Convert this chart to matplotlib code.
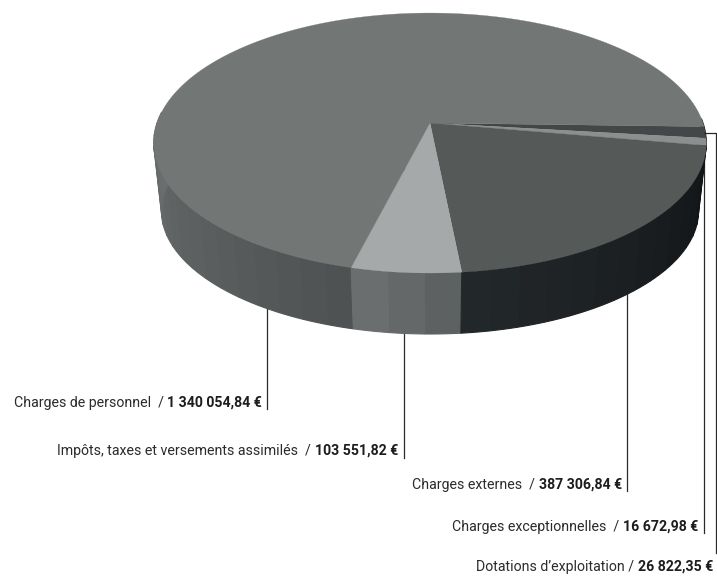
import matplotlib
matplotlib.use("Agg")
import matplotlib.pyplot as plt
import numpy as np
from matplotlib.patches import Polygon

plt.rcParams["font.family"] = ["Roboto", "Liberation Sans", "DejaVu Sans"]

# clockwise on screen starting from the right edge of the pie
categories = ["Dotations d’exploitation", "Charges exceptionnelles", "Charges externes",
              "Impôts, taxes et versements assimilés", "Charges de personnel"]
values = [26822.35, 16672.98, 387306.84, 103551.82, 1340054.84]
value_labels = ["26 822,35 €", "16 672,98 €", "387 306,84 €", "103 551,82 €", "1 340 054,84 €"]
top_colors = ["#434748", "#8b8f8e", "#555958", "#a6a9a9", "#727776"]
wall_left = ["#111416", "#111416", "#111416", "#5a5e5e", "#4d5151"]
wall_right = ["#111416", "#111416", "#23282a", "#6d7171", "#6c7070"]

# label separator, the reference keeps a wider gap on some rows
separators = [" / ", "  / ", "  / ", "  / ", "  / "]
label_right = [713, 698, 622, 398, 262]
label_y = [567, 527, 485, 451, 403]
leader_x = [716, 704, 627, 404, 267]
leader_bottom = [553, 533, 491, 458, 409]

cx, cy = 430, 123
a, b, k = 273, 126.9, 0.154
taper = 0.972
start_angle = 1.6


def project(theta):
    # circle seen in perspective, theta in degrees clockwise on screen
    t = np.radians(theta)
    X, Y = np.cos(t), np.sin(t)
    w = 1 - k * Y
    return cx + a * X / w, cy + b * Y / w


def lower_rim(theta):
    # underside of the disc is smaller and flatter than the top face
    x, y = project(theta)
    depth = 69 - 8 * np.sin(np.radians(theta))
    return cx + (x - cx) * taper, y + depth


fig = plt.figure(figsize=(7.17, 5.76), dpi=100)
ax = fig.add_axes([0, 0, 1, 1])
ax.set_xlim(0, 717)
ax.set_ylim(576, 0)
ax.axis("off")

angles = start_angle + np.concatenate([[0], np.cumsum(values)]) / sum(values) * 360

# leaders go under the pie
for i, lx in enumerate(leader_x):
    if i == 0:
        continue
    ax.plot([lx, lx], [140, leader_bottom[i]], color="#2a2a2a", lw=0.9, zorder=1)

# side wall, in narrow bands for the banded shading
for i in range(len(values)):
    lo, hi = max(angles[i], -2), min(angles[i + 1], 185)
    if i == 0:
        lo = -2
    if hi <= lo:
        continue
    n = max(int((hi - lo) / 5), 1)
    edges = np.linspace(lo, hi, n + 1)
    left = np.array(matplotlib.colors.to_rgb(wall_left[i]))
    right = np.array(matplotlib.colors.to_rgb(wall_right[i]))
    for j in range(n):
        th = np.linspace(edges[j], edges[j + 1], 8)
        x, y = project(th)
        xb, yb = lower_rim(th)
        pts = np.r_[np.c_[x, y], np.c_[xb, yb][::-1]]
        f = (j + 0.5) / n
        # angle grows towards the left of the screen
        c = left * (1 - f) + right * f
        ax.add_patch(Polygon(pts, closed=True, fc=c, ec=c, lw=0.8, zorder=2 + j * 0.001))

# top face
for i in range(len(values)):
    th = np.linspace(angles[i], angles[i + 1], 200)
    x, y = project(th)
    pts = np.r_[[[cx, cy]], np.c_[x, y]]
    ax.add_patch(Polygon(pts, closed=True, fc=top_colors[i], ec=top_colors[i], lw=0.2, zorder=3))

# dotations leader leaves the pie sideways
ax.plot([704, 716, 716], [133, 133, leader_bottom[0]], color="#2a2a2a", lw=0.9, zorder=4)

for i, name in enumerate(categories):
    bold = ax.text(label_right[i], label_y[i], value_labels[i], ha="right", va="center",
                   fontsize=10.2, fontweight="bold", color="#1d1d1b")
    fig.canvas.draw()
    box = bold.get_window_extent().transformed(ax.transData.inverted())
    ax.text(box.x0, label_y[i], name + separators[i], ha="right", va="center",
            fontsize=10.2, color="#2b2b2a")

fig.savefig("out.png", dpi=100, facecolor="white")
